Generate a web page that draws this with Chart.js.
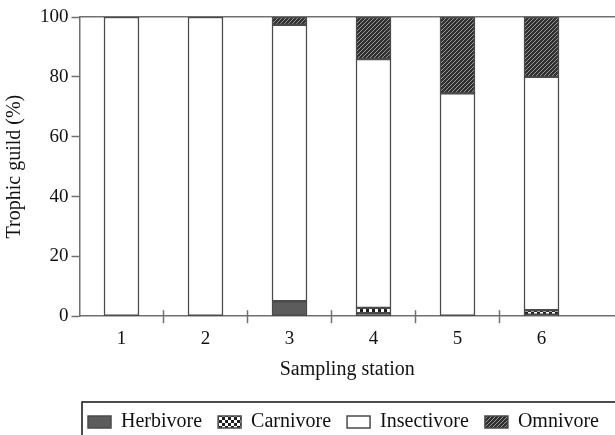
<!DOCTYPE html>
<html><head><meta charset="utf-8">
<script src="https://cdn.jsdelivr.net/npm/chart.js@4/dist/chart.umd.min.js"></script>
<style>
html,body{margin:0;padding:0;background:#fff;overflow:hidden;}
#wrap{position:relative;width:615px;height:442px;}
</style></head>
<body><div id="wrap"><canvas id="c" width="615" height="442"></canvas></div>
<script>
const categories = ['1','2','3','4','5','6'];
const stations = [1,2,3,4,5,6];
const herbivore   = [0, 0, 5.0, 1.0, 0, 0.5];
const carnivore   = [0, 0, 0, 1.8, 0, 1.5];
const insectivore = [100, 100, 92.4, 83.1, 74.5, 78.0];
const omnivore    = [0, 0, 2.6, 14.1, 25.5, 20.0];
const yTicks = [0,20,40,60,80,100];

function makePattern(kind){
  const c = document.createElement('canvas');
  const x = c.getContext('2d');
  if(kind==='check'){
    c.width=6;c.height=6;
    x.fillStyle='#1e1e1e';x.fillRect(0,0,6,6);
    x.fillStyle='#ffffff';x.fillRect(0,0,3,3);x.fillRect(3,3,3,3);
  } else {
    c.width=4;c.height=4;
    x.fillStyle='#2f2f2f';x.fillRect(0,0,4,4);
    x.strokeStyle='#9a9a9a';x.lineWidth=1;
    x.beginPath();
    x.moveTo(0,4);x.lineTo(4,0);
    x.moveTo(-1,1);x.lineTo(1,-1);
    x.moveTo(3,5);x.lineTo(5,3);
    x.stroke();
  }
  return x.createPattern(c,'repeat');
}
const checkPat = makePattern('check');
const hatchPat = makePattern('hatch');

function pts(arr){ return stations.map((s,i)=>({x:s,y:arr[i]})); }
const FAM = '"Liberation Serif", "Times New Roman", serif';
const TICKFONT = {family:FAM, size:19};
const FONT = {family:FAM, size:20};
const AX = '#707070';

const common = {borderColor:'#4a4a4a', borderWidth:1.5, borderSkipped:false, barThickness:35};

const boundaryTicks = {
  id:'boundaryTicks',
  afterDraw(chart){
    const xs = chart.scales.x, ys = chart.scales.y, ctx = chart.ctx;
    const y0 = ys.getPixelForValue(0);
    ctx.save();
    ctx.strokeStyle = AX; ctx.lineWidth = 1.5;
    for(let i=1;i<stations.length;i++){
      const px = xs.getPixelForValue(stations[i-1]+0.5);
      ctx.beginPath(); ctx.moveTo(px, y0-6); ctx.lineTo(px, y0+7); ctx.stroke();
    }
    const lg = chart.legend;
    if(lg && lg.legendHitBoxes && lg.legendHitBoxes.length){
      const hb = lg.legendHitBoxes[0];
      ctx.strokeStyle = '#222'; ctx.lineWidth = 1.6;
      ctx.strokeRect(hb.left-6, hb.top-10, 700, 100);
    }
    ctx.restore();
  }
};

new Chart(document.getElementById('c'), {
  type:'bar',
  data:{datasets:[
    Object.assign({label:'Herbivore', data:pts(herbivore), backgroundColor:'#5c5c5c'}, common),
    Object.assign({label:'Carnivore', data:pts(carnivore), backgroundColor:checkPat}, common),
    Object.assign({label:'Insectivore', data:pts(insectivore), backgroundColor:'#ffffff'}, common),
    Object.assign({label:'Omnivore', data:pts(omnivore), backgroundColor:hatchPat}, common)
  ]},
  plugins:[boundaryTicks],
  options:{
    responsive:false, animation:false,
    layout:{padding:{top:17, right:0, left:3, bottom:0}},
    plugins:{
      tooltip:{enabled:false},
      legend:{position:'bottom', align:'end',
        labels:{font:FONT, color:'#111', boxWidth:23, boxHeight:12, padding:16}}
    },
    scales:{
      x:{type:'linear', stacked:true, offset:false, min:0.5, max:6.875,
        afterBuildTicks(s){ s.ticks = stations.map(v=>({value:v})); },
        ticks:{font:TICKFONT, color:'#111', padding:3, maxRotation:0, autoSkip:false,
          callback:(v)=>categories[stations.indexOf(v)] ?? ''},
        grid:{display:true, drawOnChartArea:false, tickLength:8, tickColor:'rgba(0,0,0,0)'},
        border:{color:AX, width:1.5},
        title:{display:true, text:'Sampling station', font:FONT, color:'#111', padding:{top:5,bottom:14}}
      },
      x2:{type:'linear', position:'top', offset:false, min:0.5, max:6.875,
        ticks:{display:false}, grid:{display:true, drawOnChartArea:false, drawTicks:false},
        border:{color:AX, width:1.5}},
      y:{stacked:true, min:0, max:100,
        afterBuildTicks(s){ s.ticks = yTicks.map(v=>({value:v})); },
        ticks:{font:TICKFONT, color:'#111', padding:3},
        grid:{display:true, drawOnChartArea:false, tickLength:8, tickColor:AX, tickWidth:1.5},
        border:{color:AX, width:1.5},
        title:{display:true, text:'Trophic guild (%)', font:FONT, color:'#111', padding:{top:0,bottom:10}}
      }
    }
  }
});
</script></body></html>
